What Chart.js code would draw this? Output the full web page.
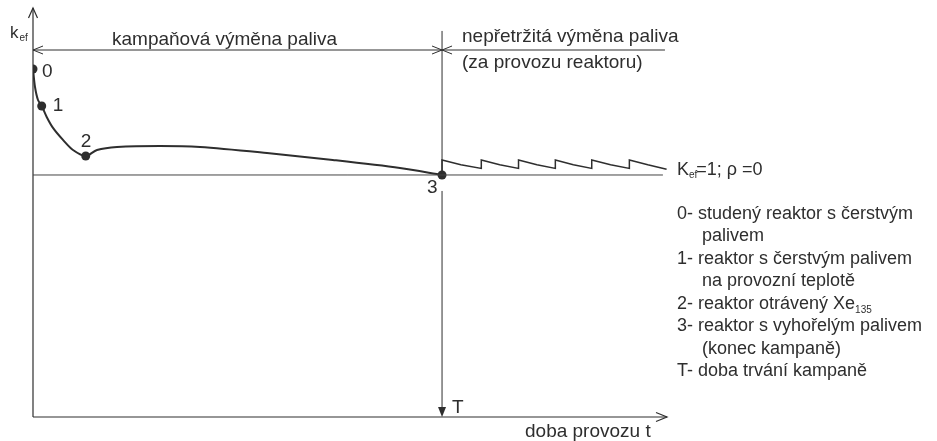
<!DOCTYPE html>
<html>
<head>
<meta charset="utf-8">
<script src="https://cdn.jsdelivr.net/npm/chart.js@4/dist/chart.umd.min.js"></script>
<style>
html,body{margin:0;padding:0;background:#fff;}
#wrap{width:937px;height:441px;}
</style>
</head>
<body>
<div id="wrap"><canvas id="c" width="937" height="441"></canvas></div>
<script>
// ---- data (time in % of campaign T, k_ef in arbitrary schematic units) ----
const T_END = 100;                 // campaign duration T
const T_MAX = 155;                 // end of time axis
const K_MIN = 0.75, K_MAX = 1.1725;
const K_CRIT = 1.0;                // k_ef = 1
const curveT = [0, 0.49, 1.22, 2.13, 3.35, 4.89, 7.33, 9.78, 12.89, 15.65, 20.54, 31.05, 40.83, 57.2, 73.3, 89.7, 100];
const curveK = [1.1095, 1.0909, 1.0775, 1.0713, 1.0599, 1.0486, 1.0362, 1.0258, 1.0196, 1.0258, 1.0289, 1.0300, 1.0289, 1.0227, 1.0155, 1.0072, 1.0];
const sawT = [100, 100, 104.6, 109.6, 109.6, 114.1, 118.7, 118.7, 123.2, 127.7, 127.7, 132.1, 136.6, 136.6, 141.2, 145.8, 145.8, 150.3, 154.9];
const sawK = [1.0, 1.0155, 1.0105, 1.0068, 1.0155, 1.0105, 1.0068, 1.0155, 1.0105, 1.0068, 1.0155, 1.0105, 1.0068, 1.0155, 1.0105, 1.0068, 1.0155, 1.0105, 1.006];
const stateNames = ["0", "1", "2", "3"];
const stateT = [0, 2.13, 12.89, 100];
const stateK = [1.1095, 1.0713, 1.0196, 1.0];
const critLineEnd = 154.0;
const dimK = 1.1291;               // level of the dimension arrows
const dimRightEnd = 154.5;
const topLabels = ["kampaňová výměna paliva", "nepřetržitá výměna paliva", "(za provozu reaktoru)"];
const xAxisLabel = "doba provozu t";
const legendLines = [
  ["0- studený reaktor s čerstvým", ""],
  ["   palivem", ""],
  ["1- reaktor s čerstvým palivem", ""],
  ["   na provozní teplotě", ""],
  ["2- reaktor otrávený Xe", "135"],
  ["3- reaktor s vyhořelým palivem", ""],
  ["   (konec kampaně)", ""],
  ["T- doba trvání kampaně", ""]
];

const INK = '#2e2e2e';
const FONT = '"Liberation Sans", Arial, sans-serif';

function pts(xs, ys){ return xs.map((x,i)=>({x:x, y:ys[i]})); }

const overlay = {
  id: 'overlay',
  beforeDatasetsDraw(chart){
    const ctx = chart.ctx, xs = chart.scales.x, ys = chart.scales.y;
    const X = v => xs.getPixelForValue(v), Y = v => ys.getPixelForValue(v);
    ctx.save();
    ctx.strokeStyle = INK; ctx.fillStyle = INK; ctx.lineWidth = 1.2;
    const x0 = X(0), y0 = Y(K_MIN), yTop = Y(K_MAX), xEnd = X(T_MAX);
    // y axis + arrow
    ctx.beginPath(); ctx.moveTo(x0, y0); ctx.lineTo(x0, yTop); ctx.stroke();
    ctx.beginPath(); ctx.moveTo(x0-4.5, yTop+10); ctx.lineTo(x0, yTop); ctx.lineTo(x0+4.5, yTop+10); ctx.stroke();
    // x axis + arrow
    ctx.beginPath(); ctx.moveTo(x0, y0); ctx.lineTo(xEnd, y0); ctx.stroke();
    ctx.beginPath(); ctx.moveTo(xEnd-11, y0-4.5); ctx.lineTo(xEnd, y0); ctx.lineTo(xEnd-11, y0+4.5); ctx.stroke();
    // vertical line at T
    const xT = X(T_END);
    ctx.lineWidth = 1;
    ctx.beginPath(); ctx.moveTo(xT, Y(1.1488)); ctx.lineTo(xT, Y(K_CRIT)); ctx.stroke();
    ctx.beginPath(); ctx.moveTo(xT, Y(0.9835)); ctx.lineTo(xT, y0-9); ctx.stroke();
    ctx.beginPath(); ctx.moveTo(xT, y0); ctx.lineTo(xT-4, y0-10); ctx.lineTo(xT+4, y0-10); ctx.closePath(); ctx.fill();
    // dimension lines
    const yd = Y(dimK);
    ctx.beginPath(); ctx.moveTo(x0, yd); ctx.lineTo(X(dimRightEnd), yd); ctx.stroke();
    ctx.beginPath(); ctx.moveTo(x0+10, yd-4); ctx.lineTo(x0, yd); ctx.lineTo(x0+10, yd+4); ctx.stroke();
    ctx.beginPath(); ctx.moveTo(xT-10, yd-4); ctx.lineTo(xT, yd); ctx.lineTo(xT-10, yd+4); ctx.stroke();
    ctx.beginPath(); ctx.moveTo(xT+10, yd-4); ctx.lineTo(xT, yd); ctx.lineTo(xT+10, yd+4); ctx.stroke();
    ctx.restore();
  },
  afterDatasetsDraw(chart){
    const ctx = chart.ctx, xs = chart.scales.x, ys = chart.scales.y;
    const X = v => xs.getPixelForValue(v), Y = v => ys.getPixelForValue(v);
    ctx.save();
    ctx.fillStyle = INK; ctx.textBaseline = 'alphabetic'; ctx.textAlign = 'left';
    const f = s => s + 'px ' + FONT;
    // y axis label k_ef
    ctx.font = f(17); ctx.fillText('k', 10, 38);
    ctx.font = f(10); ctx.fillText('ef', 19.5, 41);
    // top labels
    ctx.font = f(19);
    ctx.fillText(topLabels[0], 112, 45);
    ctx.fillText(topLabels[1], 462, 42);
    ctx.fillText(topLabels[2], 462, 68);
    // state labels
    const off = [[9, 8], [11, 5], [-5, -9], [-15, 18]];
    stateNames.forEach((n,i)=>{ ctx.fillText(n, X(stateT[i])+off[i][0], Y(stateK[i])+off[i][1]); });
    // T label
    ctx.fillText('T', X(T_END)+10, Y(K_MIN)-4);
    // x axis label
    ctx.fillText(xAxisLabel, 525, 437);
    // k_ef = 1 label
    const xr = X(T_MAX) + 10, yr = Y(K_CRIT);
    ctx.font = f(18); ctx.fillText('K', xr, yr);
    let w = ctx.measureText('K').width;
    ctx.font = f(10); ctx.fillText('ef', xr + w, yr + 3);
    let w2 = ctx.measureText('ef').width;
    ctx.font = f(18); ctx.fillText('=1; ρ =0', xr + w + w2 - 1, yr);
    // legend
    ctx.font = f(18);
    const base = [219, 241, 264, 286, 309, 331, 354, 376];
    legendLines.forEach((ln,i)=>{
      let txt = ln[0], x = 677;
      if (txt.startsWith('   ')) { txt = txt.trim(); x = 702; }
      ctx.font = f(18); ctx.fillText(txt, x, base[i]);
      if (ln[1]) { const ww = ctx.measureText(txt).width; ctx.font = f(10); ctx.fillText(ln[1], x + ww, base[i] + 4); }
    });
    ctx.restore();
  }
};

new Chart(document.getElementById('c'), {
  type: 'scatter',
  data: {
    datasets: [
      { data: pts([0, critLineEnd], [K_CRIT, K_CRIT]), showLine: true, borderColor: '#444', borderWidth: 1, pointRadius: 0, tension: 0 },
      { data: pts(curveT, curveK), showLine: true, borderColor: INK, borderWidth: 2, pointRadius: 0, tension: 0.3 },
      { data: pts(sawT, sawK), showLine: true, borderColor: INK, borderWidth: 1.5, pointRadius: 0, tension: 0 },
      { data: pts(stateT, stateK), showLine: false, pointRadius: 4.5, pointBackgroundColor: INK, pointBorderColor: INK, pointBorderWidth: 0 }
    ]
  },
  options: {
    responsive: false,
    animation: false,
    events: [],
    layout: { padding: { left: 33, right: 270, top: 8, bottom: 24 } },
    plugins: { legend: { display: false }, tooltip: { enabled: false } },
    scales: {
      x: { type: 'linear', min: 0, max: T_MAX, display: false },
      y: { type: 'linear', min: K_MIN, max: K_MAX, display: false }
    }
  },
  plugins: [overlay]
});
</script>
</body>
</html>
